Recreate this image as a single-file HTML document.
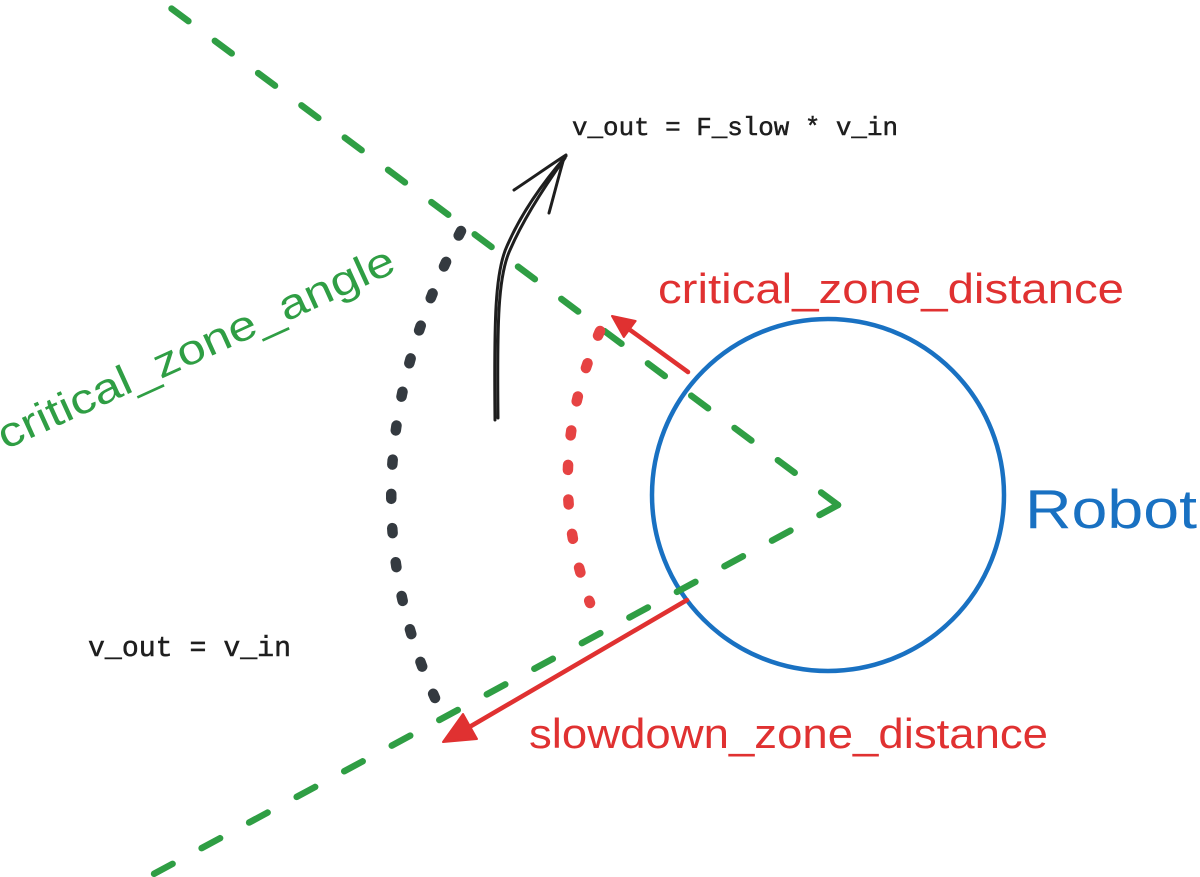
<!DOCTYPE html>
<html>
<head>
<meta charset="utf-8">
<style>
  html, body { margin: 0; padding: 0; background: #ffffff; }
  body { width: 1200px; height: 877px; overflow: hidden; }
  svg { display: block; }
  .hand { font-family: "Liberation Sans", "DejaVu Sans", sans-serif; }
  .mono { font-family: "Liberation Mono", "DejaVu Sans Mono", monospace; }
</style>
</head>
<body>
<svg width="1200" height="877" viewBox="0 0 1200 877" xmlns="http://www.w3.org/2000/svg">
  <rect x="0" y="0" width="1200" height="877" fill="#ffffff"/>

  <!-- Robot circle -->
  <circle cx="828" cy="495" r="176" fill="none" stroke="#1971c2" stroke-width="4.5"/>

  <!-- Green dashed lines (critical zone angle) -->
  <path d="M838,505 L160,0" fill="none" stroke="#2f9e44" stroke-width="6.5" stroke-linecap="round" stroke-dasharray="21 33"/>
  <path d="M838,505 L150,876" fill="none" stroke="#2f9e44" stroke-width="6.5" stroke-linecap="round" stroke-dasharray="21 33"/>

  <!-- Black dotted arc -->
  <path d="M461,231 Q336,475.5 435,698" fill="none" stroke="#343a40" stroke-width="10.5" stroke-linecap="round" stroke-dasharray="5 29.3"/>

  <!-- Red dotted arc -->
  <path d="M600,331 Q541,467 590,603" fill="none" stroke="#e64343" stroke-width="10.5" stroke-linecap="round" stroke-dasharray="5 29.6"/>

  <!-- Black curved arrow -->
  <g fill="none" stroke="#1e1e1e" stroke-width="3" stroke-linecap="round" stroke-linejoin="round">
    <path d="M495,420 C494,320 495,272 507,246 C520,216 540,186 566,156"/>
    <path d="M498,418 C497,322 498,276 510,250 C523,220 542,190 565,158"/>
    <path d="M514,190 C535,176 552,164 566,155"/>
    <path d="M549,213 C554,195 559,175 564,158"/>
  </g>

  <!-- Red arrow: critical zone distance -->
  <line x1="688" y1="372" x2="626" y2="327" stroke="#e03131" stroke-width="4.5" stroke-linecap="round"/>
  <polygon points="612,316 635.6,321 623.8,337" fill="#e03131" stroke="#e03131" stroke-width="2" stroke-linejoin="round"/>

  <!-- Red arrow: slowdown zone distance -->
  <line x1="687" y1="600" x2="466" y2="729" stroke="#e03131" stroke-width="4.5" stroke-linecap="round"/>
  <polygon points="443,742 477,739 463,714" fill="#e03131" stroke="#e03131" stroke-width="2" stroke-linejoin="round"/>

  <!-- Text labels -->
  <text class="mono" x="572" y="135" font-size="26" fill="#1e1e1e" stroke="#1e1e1e" stroke-width="0.5" textLength="326" lengthAdjust="spacingAndGlyphs">v_out = F_slow * v_in</text>
  <text class="mono" x="88" y="656" font-size="28.5" fill="#1e1e1e" stroke="#1e1e1e" stroke-width="0.5" textLength="203" lengthAdjust="spacingAndGlyphs">v_out = v_in</text>

  <text class="hand" x="658" y="303" font-size="42" fill="#e03131" textLength="466" lengthAdjust="spacingAndGlyphs">critical_zone_distance</text>
  <text class="hand" x="529" y="748" font-size="42" fill="#e03131" textLength="519" lengthAdjust="spacingAndGlyphs">slowdown_zone_distance</text>

  <text class="hand" x="1025" y="528" font-size="55" fill="#1971c2" textLength="172" lengthAdjust="spacingAndGlyphs">Robot</text>

  <text class="hand" x="0" y="0" font-size="42" fill="#2f9e44" textLength="432" lengthAdjust="spacingAndGlyphs" transform="translate(5,450) rotate(-24.5)">critical_zone_angle</text>
</svg>
</body>
</html>
